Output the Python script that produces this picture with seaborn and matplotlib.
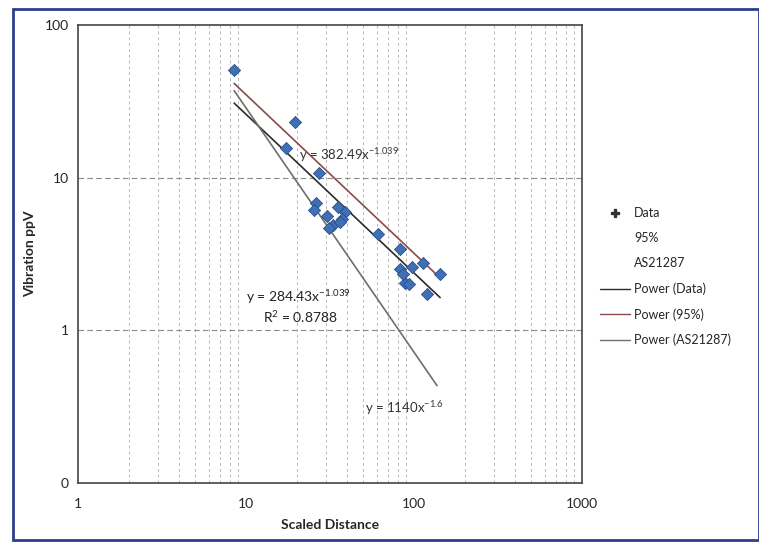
import numpy as np
import pandas as pd
import matplotlib
matplotlib.use("Agg")
import matplotlib.pyplot as plt
import seaborn as sns
from matplotlib.lines import Line2D
from matplotlib.patches import Rectangle

# measured blasts (scaled distance vs peak particle velocity)
scaled_distance = [8.5, 19.6, 17.3, 27.2, 26.1, 25.4, 30.4, 35.3, 38.8, 37.1, 33.0, 36.3, 31.0,
                   61.0, 82.5, 82.5, 88.0, 97.0, 113.0, 143.0, 119.0, 86.0, 94.0]
vibration_ppv = [51.0, 23.1, 15.6, 10.8, 6.8, 6.1, 5.65, 6.4, 6.0, 5.4, 4.9, 5.1, 4.65,
                 4.3, 3.4, 2.54, 2.05, 2.6, 2.74, 2.35, 1.74, 2.35, 2.0]

# trendline coefficients as printed on the chart
trend_names = ["Power (Data)", "Power (95%)", "Power (AS21287)"]
trend_coef = [284.43, 382.49, 1140.0]
trend_exp = [-1.039, -1.039, -1.6]
trend_xrange = [(8.5, 143.0), (8.5, 143.0), (8.5, 137.0)]
trend_colors = ["#2b2b2b", "#8a4a48", "#6e6e6e"]

sns.set_style("white")
plt.rcParams["font.family"] = ["Lato", "DejaVu Sans"]
plt.rcParams["mathtext.fontset"] = "custom"
plt.rcParams["mathtext.rm"] = "Lato"
plt.rcParams["mathtext.default"] = "regular"

fig = plt.figure(figsize=(7.59, 5.44), dpi=100)
ax = fig.add_axes([0.1028, 0.1121, 0.664, 0.842])

# trend lines
rows = []
for name, a, b, (x0, x1) in zip(trend_names, trend_coef, trend_exp, trend_xrange):
    for xv in (x0, x1):
        rows.append({"x": xv, "y": a * xv ** b, "series": name})
trend_df = pd.DataFrame(rows)
sns.lineplot(data=trend_df, x="x", y="y", hue="series", palette=trend_colors,
             linewidth=1.2, legend=False, ax=ax, estimator=None, sort=False)

pts = pd.DataFrame({"x": scaled_distance, "y": vibration_ppv})
sns.scatterplot(data=pts, x="x", y="y", marker="D", s=38, color="#3f6fb5",
                edgecolor="#2a4f8a", linewidth=0.6, ax=ax, zorder=5)

ax.set_xscale("log")
ax.set_yscale("log")
ax.set_xlim(1, 1000)
ax.set_ylim(0.1, 100)

ax.set_xticks([1, 10, 100, 1000])
ax.set_xticklabels(["1", "10", "100", "1000"])
ax.set_yticks([0.1, 1, 10, 100])
ax.set_yticklabels(["0", "1", "10", "100"])
ax.minorticks_off()
ax.tick_params(axis="both", labelsize=10, length=3, color="#555555")
ax.tick_params(axis="x", pad=8)

# scanned-looking grid
for dec in [1, 10, 100]:
    for m in range(2, 10):
        ax.axvline(dec * m, color="#b8b8b8", linestyle=(0, (3, 3)), linewidth=0.7, zorder=0)
for yv in [1, 10]:
    ax.axhline(yv, color="#8a8a8a", linestyle=(0, (5, 3)), linewidth=0.8, zorder=0)

for s in ax.spines.values():
    s.set_color("#444444")
    s.set_linewidth(1.2)

ax.set_xlabel("Scaled Distance", fontsize=10, fontweight="bold", labelpad=6)
ax.set_ylabel("Vibration ppV", fontsize=10, fontweight="bold", labelpad=6)

ax.text(41, 14, "y = 382.49x$^{-1.039}$", fontsize=9.5, color="#333333", ha="center", va="center")
ax.text(20.5, 1.64, "y = 284.43x$^{-1.039}$", fontsize=10, color="#222222", ha="center", va="center")
ax.text(21, 1.22, "R$^2$ = 0.8788", fontsize=10, color="#222222", ha="center", va="center")
ax.text(88, 0.31, "y = 1140x$^{-1.6}$", fontsize=9.5, color="#333333", ha="center", va="center")

handles = [
    Line2D([], [], marker="P", linestyle="none", color="#333333", markersize=6),
    Line2D([], [], linestyle="none"),
    Line2D([], [], linestyle="none"),
    Line2D([], [], color=trend_colors[0], linewidth=1),
    Line2D([], [], color=trend_colors[1], linewidth=1),
    Line2D([], [], color=trend_colors[2], linewidth=1),
]
labels = ["Data", "95%", "AS21287"] + trend_names
fig.legend(handles, labels, loc="upper left", bbox_to_anchor=(0.776, 0.64),
           frameon=False, fontsize=9, handlelength=2.4, labelspacing=1.05,
           handletextpad=0.3)

fig.patches.append(Rectangle((0.017, 0.008), 0.983, 0.975, transform=fig.transFigure,
                             fill=False, edgecolor="#2b3f8c", linewidth=2))

fig.savefig("out.png", dpi=100)
